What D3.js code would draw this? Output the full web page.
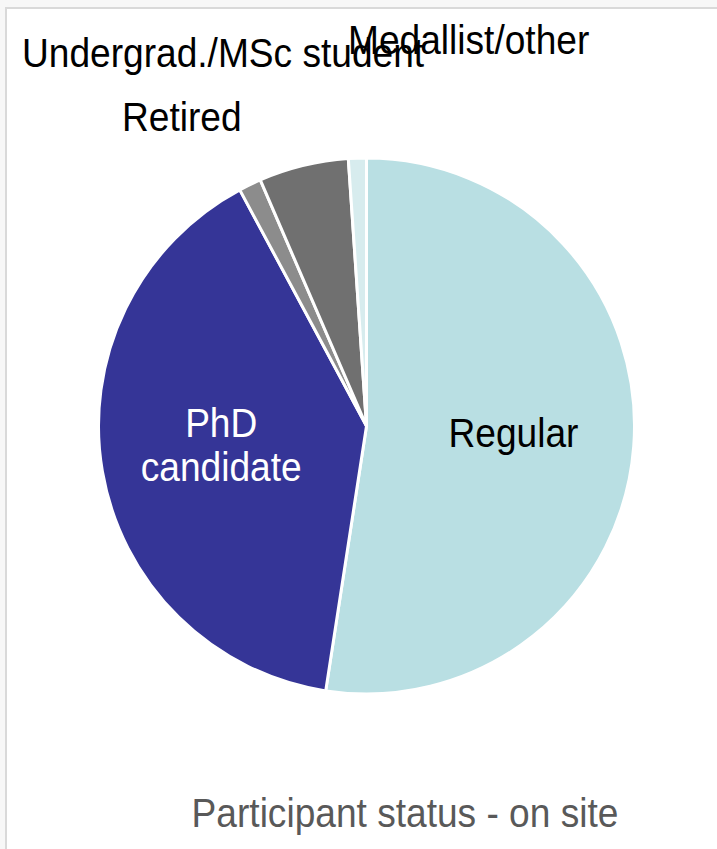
<!DOCTYPE html>
<html>
<head>
<meta charset="utf-8">
<script src="https://cdn.jsdelivr.net/npm/d3@7"></script>
<style>
  body { margin: 0; background: #f7f7f7; }
  svg { display: block; font-family: "Liberation Sans", Arial, sans-serif; }
</style>
</head>
<body>
<script>
// participant counts, clockwise from 12 o'clock
const categories = ["Regular", "PhD candidate", "Undergrad./MSc student", "Retired", "Medallist/other"];
const counts = [194, 147, 5, 20, 4];
const colors = ["#b9dfe3", "#353597", "#8c8c8c", "#707070", "#d7ecee"];
const title = "Participant status - on site";

const width = 717, height = 849;
const cx = 366.5, cy = 426, r = 268;
const fontSize = 41, squeeze = 0.905; // the reference text is a bit narrow

const svg = d3.select("body").append("svg")
  .attr("width", width)
  .attr("height", height);

// chart area frame
svg.append("rect")
  .attr("x", 6).attr("y", 8)
  .attr("width", width + 10).attr("height", height + 10)
  .attr("fill", "#fff")
  .attr("stroke", "#d9d9d9")
  .attr("stroke-width", 2);

const data = categories.map((c, i) => ({ name: c, value: counts[i], color: colors[i] }));

const pie = d3.pie().value(d => d.value).sort(null);
const arc = d3.arc().innerRadius(0).outerRadius(r);
const labelArc = d3.arc().innerRadius(r * 0.55).outerRadius(r * 0.55);

const g = svg.append("g").attr("transform", `translate(${cx},${cy})`);
const arcs = pie(data);

g.selectAll("path")
  .data(arcs)
  .enter().append("path")
    .attr("d", arc)
    .attr("fill", d => d.data.color)
    .attr("stroke", "#fff")
    .attr("stroke-width", 3)
    .attr("stroke-linejoin", "round");

// labels inside the two big slices
const inside = arcs.slice(0, 2);
g.selectAll("text.inside")
  .data(inside)
  .enter().append("text")
    .attr("class", "inside")
    .attr("transform", d => `translate(${labelArc.centroid(d)}) scale(${squeeze},1)`)
    .attr("text-anchor", "middle")
    .attr("font-size", fontSize)
    .attr("fill", (d, i) => i === 1 ? "#fff" : "#000")
    .each(function(d) {
      const words = d.data.name === "PhD candidate" ? ["PhD", "candidate"] : [d.data.name];
      const t = d3.select(this);
      const y0 = words.length > 1 ? -14 : 9.5;
      words.forEach((w, k) => t.append("tspan").attr("x", 0).attr("y", y0 + k * 44).text(w));
    });

// labels for the small slices, placed above the pie
const outside = [
  { name: categories[2], x: 22, y: 67 },
  { name: categories[3], x: 122, y: 131 },
  { name: categories[4], x: 348, y: 54 }
];
svg.selectAll("text.outside")
  .data(outside)
  .enter().append("text")
    .attr("class", "outside")
    .attr("transform", d => `translate(${d.x},${d.y}) scale(${squeeze},1)`)
    .attr("font-size", fontSize)
    .attr("fill", "#000")
    .text(d => d.name);

svg.append("text")
  .attr("transform", `translate(405,827) scale(${squeeze},1)`)
  .attr("text-anchor", "middle")
  .attr("font-size", fontSize)
  .attr("fill", "#595959")
  .text(title);
</script>
</body>
</html>
